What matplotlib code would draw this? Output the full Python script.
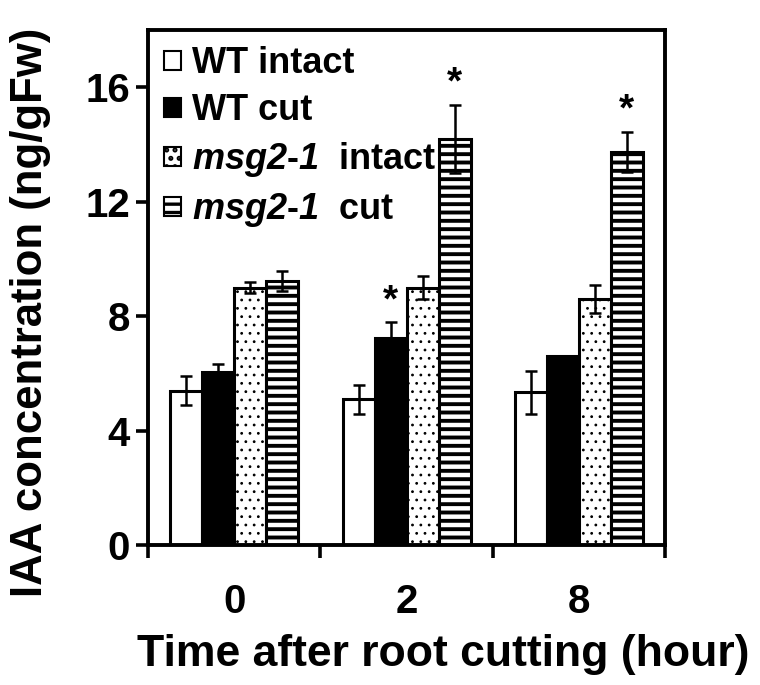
import matplotlib
matplotlib.use("Agg")
import matplotlib.pyplot as plt
import numpy as np

plt.rcParams['font.family'] = ['Liberation Sans', 'DejaVu Sans']
plt.rcParams['font.weight'] = 'bold'
plt.rcParams['mathtext.fontset'] = 'custom'
plt.rcParams['mathtext.it'] = 'Liberation Sans:italic:bold'
plt.rcParams['mathtext.rm'] = 'Liberation Sans:bold'
plt.rcParams['mathtext.bf'] = 'Liberation Sans:bold'
try:
    plt.rcParams['mathtext.bfit'] = 'Liberation Sans:italic:bold'
    MSG = r'$\mathbfit{msg2}$-$\mathbfit{1}$'
except KeyError:
    MSG = r'$\mathit{msg2}$-$\mathit{1}$'
plt.rcParams['hatch.linewidth'] = 2.4

categories = ['0', '2', '8']
series_names = ['WT intact', 'WT cut', MSG + '  intact', MSG + '  cut']
wt_intact = [5.4, 5.1, 5.35]
wt_cut = [6.05, 7.25, 6.6]
msg_intact = [9.0, 9.0, 8.6]
msg_cut = [9.25, 14.2, 13.75]
wt_intact_err = [0.5, 0.5, 0.75]
wt_cut_err = [0.3, 0.55, 0.0]
msg_intact_err = [0.2, 0.4, 0.5]
msg_cut_err = [0.35, 1.2, 0.7]
# significance marks: (series index, category index)
stars = [(1, 1), (3, 1), (3, 2)]
yticks = [0, 4, 8, 12, 16]

values = [wt_intact, wt_cut, msg_intact, msg_cut]
errors = [wt_intact_err, wt_cut_err, msg_intact_err, msg_cut_err]
faces = ['white', 'black', 'white', 'white']
hatches = [None, None, '..', '--']
hatch_lws = [1.0, 1.0, 0.8, 2.8]

fig = plt.figure(figsize=(7.6, 6.85), dpi=100)
ax = fig.add_axes([0.195, 0.204, 0.68, 0.752])

x = np.arange(len(categories))
w = 0.186
for i, (vals, errs) in enumerate(zip(values, errors)):
    pos = x + (i - 1.5) * w
    bars = ax.bar(pos, vals, width=w, color=faces[i], edgecolor='black', linewidth=2.2,
                  hatch=hatches[i], label=series_names[i], zorder=2)
    for b in bars:
        try:
            b.set_hatch_linewidth(hatch_lws[i])
        except AttributeError:
            pass
    e = np.array(errs)
    mask = e > 0
    ax.errorbar(pos[mask], np.array(vals)[mask], yerr=e[mask], fmt='none',
                ecolor='black', elinewidth=1.8, capsize=4.5, capthick=1.8, zorder=3)

for si, ci in stars:
    xp = x[ci] + (si - 1.5) * w
    yp = values[si][ci] + errors[si][ci] + 0.1
    ax.text(xp, yp, '*', ha='center', va='bottom', fontsize=28, fontweight='bold')

ax.set_xlim(-0.5, 2.5)
ax.set_ylim(0, 18)
ax.set_yticks(yticks)
ax.set_xticks(x)
ax.set_xticklabels(categories)
ax.set_xticks([-0.5, 0.5, 1.5, 2.5], minor=True)
ax.tick_params(axis='x', which='major', length=0, labelsize=29, pad=27)
ax.tick_params(axis='x', which='minor', length=9, width=2.6, direction='out')
ax.tick_params(axis='y', length=9, width=2.6, direction='out', labelsize=29, pad=4)
for sp in ax.spines.values():
    sp.set_linewidth(2.8)

ax.set_xlabel('Time after root cutting (hour)', fontsize=32, fontweight='bold')
ax.xaxis.set_label_coords(0.571, -0.212)
ax.xaxis.label.set_va('center')
ax.set_ylabel('IAA concentration (ng/gFw)', fontsize=31.5, fontweight='bold')
ax.yaxis.set_label_coords(-0.228, 0.452)
ax.yaxis.label.set_va('center')

leg = ax.legend(loc='upper left', frameon=False, fontsize=26, handlelength=0.45,
                handleheight=0.45, handletextpad=0.3, labelspacing=0.33,
                borderaxespad=0.15, borderpad=0.3)
for h in leg.legend_handles:
    try:
        h.set_linewidth(1.5)
    except Exception:
        pass

fig.savefig('out.png', dpi=100)
